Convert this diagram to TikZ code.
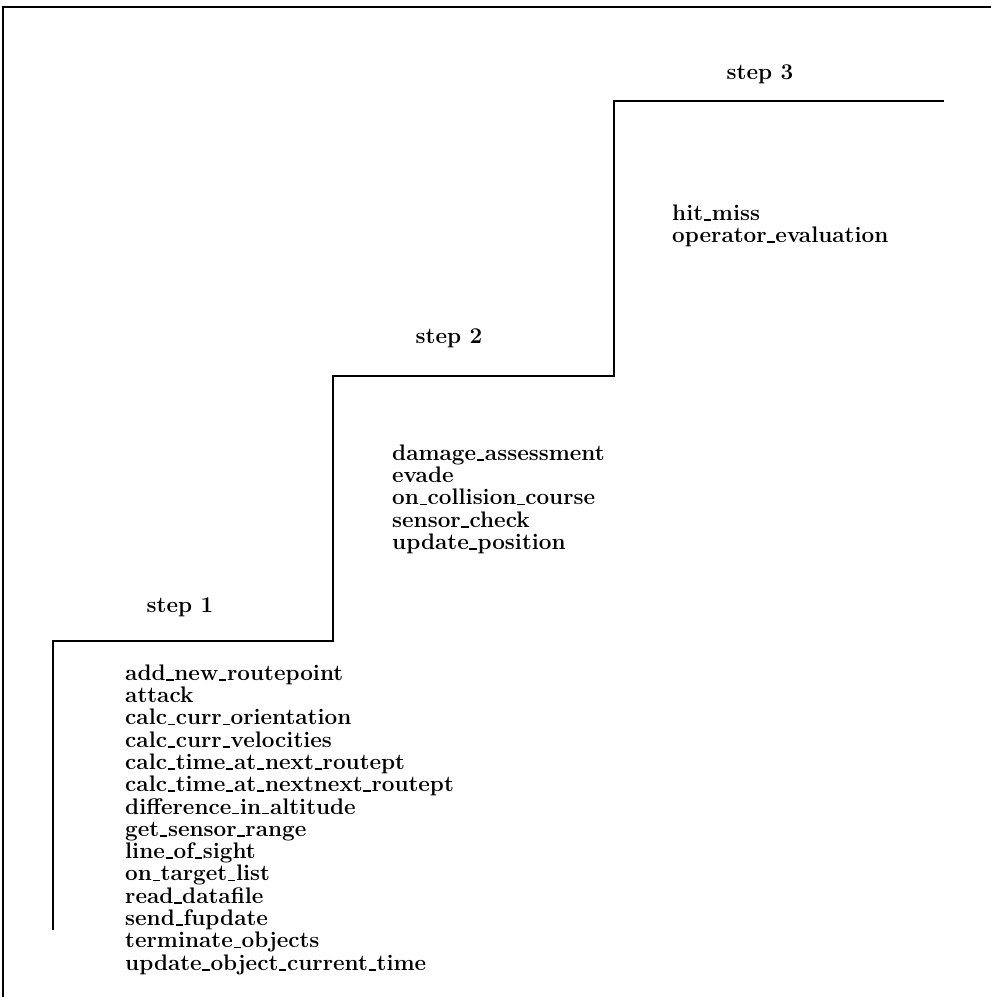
\documentclass[tikz,border=0pt]{standalone}
\newcommand{\us}{\kern0.03em\rule[-0.02em]{0.33em}{0.075em}\kern0.03em}
\tikzset{
  frame/.style={line width=2.4pt},
  stair/.style={line width=2.6pt},
  lbl/.style={inner sep=0pt, anchor=base, font=\fontsize{22.5}{22.3}\selectfont\bfseries},
  listtxt/.style={inner sep=0pt, align=left, anchor=north west, font=\fontsize{22.5}{22.3}\selectfont\bfseries}
}
\begin{document}
\begin{tikzpicture}[x=1pt,y=-1pt]
\useasboundingbox (0,0) rectangle (991,997);
\draw[frame] (3,997) -- (3,7) -- (991,7);
\coordinate (a0) at (53,930);
\coordinate (a1) at (53,641);
\coordinate (a2) at (333,641);
\coordinate (a3) at (333,376);
\coordinate (a4) at (614,376);
\coordinate (a5) at (614,101);
\coordinate (a6) at (944,101);
\draw[stair] (a0) -- (a1) -- (a2) -- (a3) -- (a4) -- (a5) -- (a6);
\node[lbl] (s1) at (180,612) {step 1};
\node[lbl] (s2) at (449,343) {step 2};
\node[lbl] (s3) at (760,79) {step 3};
\node[listtxt] (l3) at (672,204.4) {hit\us miss\\operator\us evaluation};
\node[listtxt] (l2) at (392,444.4) {damage\us assessment\\evade\\on\us collision\us course\\sensor\us check\\update\us position};
\node[listtxt] (l1) at (125,664.4) {add\us new\us routepoint\\attack\\calc\us curr\us orientation\\calc\us curr\us velocities\\calc\us time\us at\us next\us routept\\calc\us time\us at\us nextnext\us routept\\difference\us in\us altitude\\get\us sensor\us range\\line\us of\us sight\\on\us target\us list\\read\us datafile\\send\us fupdate\\terminate\us objects\\update\us object\us current\us time};
\end{tikzpicture}
\end{document}
